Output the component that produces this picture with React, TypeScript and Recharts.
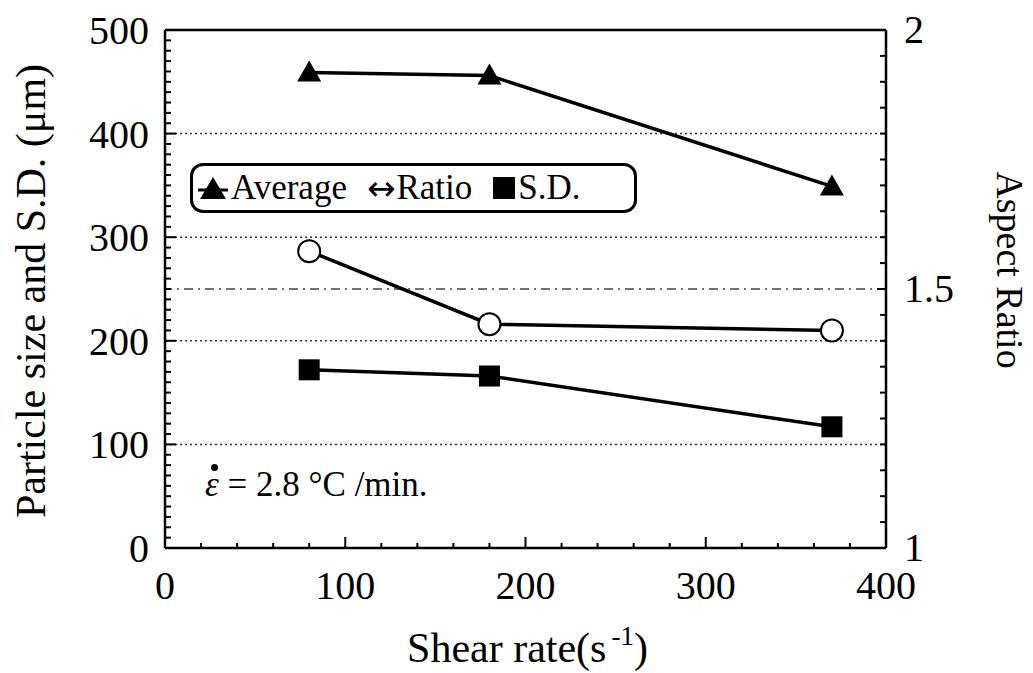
import React from 'react';
import { LineChart, Line, XAxis, YAxis, Legend, ReferenceLine } from 'recharts';

const shearRate = [80, 180, 370];
const avgSize = [459, 456, 349];
const aspectRatio = [1.573, 1.432, 1.42];
const sdSize = [172, 166, 117];

const xMajorTicks = [0, 100, 200, 300, 400];
const leftMajorTicks = [0, 100, 200, 300, 400, 500];
const rightMajorTicks = [1, 1.5, 2];
const gridLines = [100, 200, 300, 400];

const xTicks = Array.from({ length: 21 }, (_, i) => i * 20);
const leftTicks = Array.from({ length: 51 }, (_, i) => i * 10);
const rightTicks = Array.from({ length: 21 }, (_, i) => Math.round((1 + i * 0.05) * 100) / 100);

const data = shearRate.map((s, i) => ({
  shear: s,
  average: avgSize[i],
  ratio: aspectRatio[i],
  sd: sdSize[i],
}));

const FONT = '"Liberation Serif", "Times New Roman", serif';

const isMajor = (v: number, list: number[]) => list.some((m) => Math.abs(m - v) < 1e-6);

const BottomTick = (props: any) => {
  const { x, y, payload } = props;
  const major = isMajor(payload.value, xMajorTicks);
  return (
    <g>
      <line x1={x} y1={y} x2={x} y2={y - (major ? 11 : 5)} stroke="#000" strokeWidth={2} />
      {major && (
        <text x={x} y={y + 51} textAnchor="middle" fontFamily={FONT} fontSize={40} fill="#000">
          {payload.value}
        </text>
      )}
    </g>
  );
};

const LeftTick = (props: any) => {
  const { x, y, payload } = props;
  const major = isMajor(payload.value, leftMajorTicks);
  return (
    <g>
      <line x1={x} y1={y} x2={x + (major ? 11 : 6)} y2={y} stroke="#000" strokeWidth={2} />
      {major && (
        <text x={x - 16} y={y + 14} textAnchor="end" fontFamily={FONT} fontSize={40} fill="#000">
          {payload.value}
        </text>
      )}
    </g>
  );
};

const RightTick = (props: any) => {
  const { x, y, payload } = props;
  const major = isMajor(payload.value, rightMajorTicks);
  return (
    <g>
      <line x1={x} y1={y} x2={x - (major ? 9 : 6)} y2={y} stroke="#000" strokeWidth={2} />
      {major && (
        <text x={x + 18} y={y + 13} textAnchor="start" fontFamily={FONT} fontSize={40} fill="#000">
          {payload.value}
        </text>
      )}
    </g>
  );
};

const TriangleDot = (props: any) => {
  const { cx, cy, index } = props;
  return (
    <path
      key={`tri-${index}`}
      d={`M${cx},${cy - 12} L${cx - 12},${cy + 9} L${cx + 12},${cy + 9} Z`}
      fill="#000"
    />
  );
};

const SquareDot = (props: any) => {
  const { cx, cy, index } = props;
  return <rect key={`sq-${index}`} x={cx - 10.5} y={cy - 10.5} width={21} height={21} fill="#000" />;
};

const XTitle = (props: any) => {
  const { viewBox } = props;
  const cx = viewBox.x + viewBox.width / 2 + 2;
  return (
    <text x={cx} y={viewBox.y + 114} textAnchor="middle" fontFamily={FONT} fontSize={42} fill="#000">
      <tspan>Shear rate(s</tspan>
      <tspan dx={5} dy={-17} fontSize={27}>-1</tspan>
      <tspan dy={17}>)</tspan>
    </text>
  );
};

const LeftTitle = (props: any) => {
  const { viewBox } = props;
  const cx = 31;
  const cy = viewBox.y + viewBox.height / 2 + 2;
  return (
    <text
      x={cx}
      y={cy}
      transform={`rotate(-90, ${cx}, ${cy})`}
      textAnchor="middle"
      dominantBaseline="central"
      fontFamily={FONT}
      fontSize={42}
      fill="#000"
    >
      Particle size and S.D. (μm)
    </text>
  );
};

const RightTitle = (props: any) => {
  const { viewBox } = props;
  const cx = viewBox.x + 124;
  const cy = 270;
  return (
    <text
      x={cx}
      y={cy}
      transform={`rotate(90, ${cx}, ${cy})`}
      textAnchor="middle"
      dominantBaseline="central"
      fontFamily={FONT}
      fontSize={38}
      fill="#000"
    >
      Aspect Ratio
    </text>
  );
};

const legendIcon = (key: string) => {
  if (key === 'average') {
    return (
      <svg width={30} height={26} style={{ marginRight: 3 }}>
        <path d="M15,2 L2,24 L28,24 Z" fill="#000" />
        <line x1={0} y1={15} x2={30} y2={15} stroke="#000" strokeWidth={3} />
      </svg>
    );
  }
  if (key === 'sd') {
    return (
      <svg width={24} height={24} style={{ marginRight: 2 }}>
        <rect x={1} y={1} width={22} height={22} fill="#000" />
      </svg>
    );
  }
  return (
    <span style={{ fontFamily: '"DejaVu Sans", sans-serif', fontSize: 34, marginRight: 1, lineHeight: 1 }}>↔</span>
  );
};

const renderLegend = (props: any) => {
  const { payload } = props;
  return (
    <div
      style={{
        boxSizing: 'border-box',
        width: 447,
        height: 50,
        border: '3px solid #000',
        borderRadius: 13,
        display: 'flex',
        alignItems: 'center',
        paddingLeft: 5,
        fontFamily: FONT,
        fontSize: 35,
        color: '#000',
        background: '#fff',
      }}
    >
      {(payload || []).map((entry: any) => (
        <span key={entry.dataKey} style={{ display: 'flex', alignItems: 'center', marginRight: 20 }}>
          {legendIcon(entry.dataKey)}
          {entry.value}
        </span>
      ))}
    </div>
  );
};

export default function App() {
  return (
    <div style={{ position: 'absolute', left: 0, top: 0, width: 1033, height: 673, background: '#fff' }}>
      <LineChart width={1033} height={673} data={data} margin={{ top: 30, right: 0, left: 0, bottom: 0 }}>
        <XAxis
          xAxisId="x"
          dataKey="shear"
          type="number"
          domain={[0, 400]}
          ticks={xTicks}
          interval={0}
          height={125}
          tickSize={0}
          tickMargin={0}
          tickLine={false}
          tick={BottomTick}
          axisLine={{ stroke: '#000', strokeWidth: 2.5 }}
          label={<XTitle />}
        />
        <YAxis
          yAxisId="left"
          type="number"
          domain={[0, 500]}
          ticks={leftTicks}
          interval={0}
          width={165}
          tickSize={0}
          tickMargin={0}
          tickLine={false}
          tick={LeftTick}
          axisLine={{ stroke: '#000', strokeWidth: 2.5 }}
          label={<LeftTitle />}
        />
        <YAxis
          yAxisId="right"
          orientation="right"
          type="number"
          domain={[1, 2]}
          ticks={rightTicks}
          interval={0}
          width={147}
          tickSize={0}
          tickMargin={0}
          tickLine={false}
          tick={RightTick}
          axisLine={{ stroke: '#000', strokeWidth: 2.5 }}
          label={<RightTitle />}
        />
        {gridLines.map((g) => (
          <ReferenceLine
            key={g}
            xAxisId="x"
            yAxisId="left"
            y={g}
            stroke="#333"
            strokeWidth={1.5}
            strokeDasharray="2 3"
          />
        ))}
        <ReferenceLine xAxisId="x" yAxisId="right" y={1.5} stroke="#444" strokeWidth={1.5} strokeDasharray="9 5 2 5" />
        <ReferenceLine xAxisId="x" yAxisId="left" y={500} stroke="#000" strokeWidth={2.5} />
        <Legend
          layout="horizontal"
          verticalAlign="middle"
          align="center"
          content={renderLegend}
          wrapperStyle={{ top: 163, left: 190, width: 447, height: 50 }}
        />
        <Line
          xAxisId="x"
          yAxisId="left"
          dataKey="average"
          name="Average"
          stroke="#000"
          strokeWidth={3.5}
          dot={TriangleDot}
          isAnimationActive={false}
        />
        <Line
          xAxisId="x"
          yAxisId="right"
          dataKey="ratio"
          name="Ratio"
          stroke="#000"
          strokeWidth={3.5}
          dot={{ r: 11, fill: '#fff', stroke: '#000', strokeWidth: 2 }}
          isAnimationActive={false}
        />
        <Line
          xAxisId="x"
          yAxisId="left"
          dataKey="sd"
          name="S.D."
          stroke="#000"
          strokeWidth={3.5}
          dot={SquareDot}
          isAnimationActive={false}
        />
      </LineChart>
      <div
        style={{
          position: 'absolute',
          left: 205,
          top: 467,
          fontFamily: FONT,
          fontSize: 35,
          lineHeight: 1,
          color: '#000',
          whiteSpace: 'nowrap',
        }}
      >
        <span style={{ position: 'relative', display: 'inline-block', fontStyle: 'italic' }}>
          ε
          <span
            style={{
              position: 'absolute',
              left: 6,
              top: -3,
              width: 7,
              height: 7,
              borderRadius: '50%',
              background: '#000',
            }}
          />
        </span>
        {' = 2.8 °C /min.'}
      </div>
    </div>
  );
}
